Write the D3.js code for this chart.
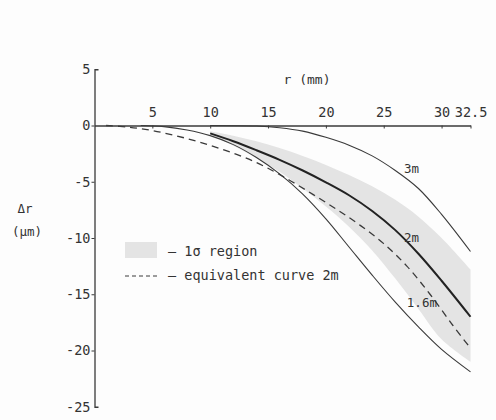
<!DOCTYPE html>
<html lang="en">
	<head>
		<meta charset="utf-8">
		<title>Delta r vs r</title>
		<script src="https://cdn.jsdelivr.net/npm/d3@7"></script>
		<style>
			body { margin: 0; background: #fdfdfd; }
			svg { display: block; }
			text { font-family: "DejaVu Sans Mono", monospace; fill: #333; }
		</style>
	</head>
	<body>
		<script>

		/*////////////
		//  Data  //
		////////////*/

		var xTicks = [5, 10, 15, 20, 25, 30, 32.5];
		var yTicks = [5, 0, -5, -10, -15, -20, -25];

		// [r (mm), delta r (um)]
		var curve3m = [[10, 0], [14, -0.05], [16, -0.2], [18, -0.5], [20, -1.05], [22, -1.75],
			[24, -2.7], [26, -4.0], [28, -5.6], [30, -7.9], [32.5, -11.2]];
		var curve2m = [[10, -0.7], [12, -1.4], [14, -2.2], [16, -3.05], [18, -4.0], [20, -5.05],
			[22, -6.2], [24, -7.6], [26, -9.3], [28, -11.4], [30, -13.8], [32.5, -17.0]];
		var curve16m = [[4, 0], [6, -0.1], [8, -0.4], [10, -0.9], [12, -1.7], [14, -2.85], [16, -4.3],
			[18, -6.1], [20, -8.3], [22, -10.8], [24, -13.3], [26, -15.7], [28, -17.9], [30, -19.9], [32.5, -21.9]];
		var equiv2m = [[1, 0], [3, -0.15], [5, -0.45], [7, -0.9], [9, -1.45], [11, -2.1], [13, -2.85],
			[15, -3.8], [17, -4.95], [19, -6.2], [21, -7.5], [23, -8.9], [25, -10.5], [27, -12.5],
			[29, -15.0], [31, -17.8], [32.5, -19.8]];

		// 1 sigma band around the 2m curve
		var sigmaR = [10, 12, 14, 16, 18, 20, 22, 24, 26, 28, 30, 32.5];
		var sigmaUpper = [-0.5, -0.9, -1.4, -2.0, -2.7, -3.5, -4.4, -5.4, -6.6, -8.1, -10.0, -12.8];
		var sigmaLower = [-0.8, -1.8, -2.9, -4.1, -5.6, -7.2, -9.0, -11.1, -13.6, -16.3, -19.0, -21.0];

		var curveLabels = [
			{ text: "3m", r: 27.4, dr: -3.8 },
			{ text: "2m", r: 27.4, dr: -10.0 },
			{ text: "1.6m", r: 28.3, dr: -15.7 }
		];

		/*//////////////////////
		//  SVG Canvas Setup  //
		//////////////////////*/

		var w = 496;
		var h = 420;

		var svg = d3.select("body")
			.append("svg")
			.attr("width", w)
			.attr("height", h);

		var x = d3.scaleLinear().domain([0, 32.5]).range([94.5, 470.5]);
		var y = d3.scaleLinear().domain([5, -25]).range([69.25, 406.75]);

		var ink = "#3a3a3a";
		var smooth = d3.curveCatmullRom.alpha(0.5);

		// Shaded 1 sigma region
		var band = sigmaR.map(function(r, i) {
			return { r: r, hi: sigmaUpper[i], lo: sigmaLower[i] };
		});

		svg.append("path")
			.datum(band)
			.attr("fill", "#e4e4e4")
			.attr("d", d3.area()
				.x(function(d) { return x(d.r); })
				.y0(function(d) { return y(d.lo); })
				.y1(function(d) { return y(d.hi); })
				.curve(smooth));

		// Axes
		var xAxis = svg.append("g")
			.attr("transform", "translate(0," + y(0) + ")")
			.call(d3.axisTop(x)
				.tickValues(xTicks)
				.tickFormat(function(d) { return d; })
				.tickSizeInner(-3)
				.tickSizeOuter(0)
				.tickPadding(9));

		var yAxis = svg.append("g")
			.attr("transform", "translate(" + x(0) + ",0)")
			.call(d3.axisLeft(y)
				.tickValues(yTicks)
				.tickFormat(function(d) { return String(d); })
				.tickSizeInner(3)
				.tickSizeOuter(-4)
				.tickPadding(1));

		svg.selectAll(".domain").attr("stroke", ink).attr("stroke-width", 1.3);
		svg.selectAll(".tick line").attr("stroke", ink);
		svg.selectAll(".tick text")
			.attr("fill", "#333")
			.style("font-family", "'DejaVu Sans Mono', monospace")
			.style("font-size", "13.5px");

		// ends of the y axis only have the bracket
		yAxis.selectAll(".tick line")
			.filter(function(d) { return d == 5 || d == -25; })
			.remove();

		// Curves
		var line = d3.line()
			.x(function(d) { return x(d[0]); })
			.y(function(d) { return y(d[1]); })
			.curve(smooth);

		svg.append("path")
			.datum(curve3m)
			.attr("fill", "none")
			.attr("stroke", ink)
			.attr("stroke-width", 1.1)
			.attr("d", line);

		svg.append("path")
			.datum(curve16m)
			.attr("fill", "none")
			.attr("stroke", ink)
			.attr("stroke-width", 1.1)
			.attr("d", line);

		svg.append("path")
			.datum(equiv2m)
			.attr("fill", "none")
			.attr("stroke", ink)
			.attr("stroke-width", 1.3)
			.attr("stroke-dasharray", "7,5")
			.attr("d", line);

		svg.append("path")
			.datum(curve2m)
			.attr("fill", "none")
			.attr("stroke", "#222")
			.attr("stroke-width", 2)
			.attr("d", line);

		svg.selectAll(".clabel")
			.data(curveLabels)
			.enter()
			.append("text")
			.attr("class", "clabel")
			.attr("x", function(d) { return x(d.r); })
			.attr("y", function(d) { return y(d.dr); })
			.attr("dy", "0.35em")
			.attr("text-anchor", "middle")
			.style("font-size", "12.5px")
			.text(function(d) { return d.text; });

		// Axis titles
		svg.append("text")
			.attr("x", 307)
			.attr("y", 84)
			.attr("text-anchor", "middle")
			.style("font-size", "13px")
			.text("r (mm)");

		svg.append("text")
			.attr("x", 25)
			.attr("y", 213)
			.attr("text-anchor", "middle")
			.style("font-size", "12.5px")
			.text("Δr");

		svg.append("text")
			.attr("x", 27)
			.attr("y", 236)
			.attr("text-anchor", "middle")
			.style("font-size", "12.5px")
			.text("(μm)");

		// Legend
		svg.append("rect")
			.attr("x", 125)
			.attr("y", 242)
			.attr("width", 32)
			.attr("height", 16)
			.attr("fill", "#e4e4e4");

		svg.append("text")
			.attr("x", 168)
			.attr("y", 256)
			.style("font-size", "13.5px")
			.text("— 1σ region");

		svg.append("line")
			.attr("x1", 125)
			.attr("x2", 157)
			.attr("y1", 276)
			.attr("y2", 276)
			.attr("stroke", ink)
			.attr("stroke-width", 1)
			.attr("stroke-dasharray", "4,3");

		svg.append("text")
			.attr("x", 168)
			.attr("y", 280)
			.style("font-size", "13.5px")
			.text("— equivalent curve 2m");

		</script>
	</body>
</html>
